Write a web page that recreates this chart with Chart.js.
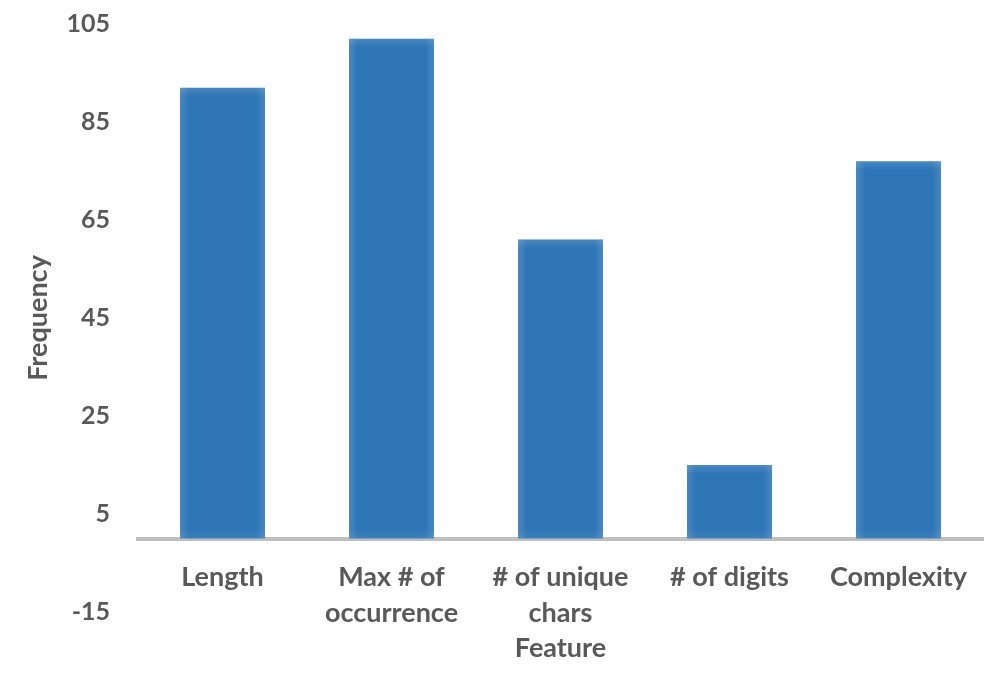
<!DOCTYPE html>
<html>
<head>
<meta charset="utf-8">
<script src="https://cdn.jsdelivr.net/npm/chart.js@4"></script>
<style>
  body { margin: 0; background: #fff; }
  #wrap { width: 999px; height: 674px; }
</style>
</head>
<body>
<div id="wrap"><canvas id="freqChart"></canvas></div>
<script>
var featureLabels = [['Length'], ['Max # of', 'occurrence'], ['# of unique', 'chars'], ['# of digits'], ['Complexity']];
var frequencyValues = [92, 102, 61, 15, 77];
var yTickValues = [-15, 5, 25, 45, 65, 85, 105];

const textColor = '#595959';
const barColor = '#2e75b6';
const fontFamily = 'Lato, "Open Sans", sans-serif';

// lighter rim on every bar, like the soft edge effect of the original
const softEdges = {
  id: 'softEdges',
  afterDatasetsDraw(chart) {
    const ctx = chart.ctx;
    const edge = 9;
    chart.getDatasetMeta(0).data.forEach(function (bar) {
      const left = bar.x - bar.width / 2;
      const right = bar.x + bar.width / 2;
      const top = Math.min(bar.y, bar.base);
      const bottom = Math.max(bar.y, bar.base);
      const h = bottom - top;
      ctx.save();
      let g = ctx.createLinearGradient(left, 0, left + edge, 0);
      g.addColorStop(0, 'rgba(255,255,255,0.13)');
      g.addColorStop(1, 'rgba(255,255,255,0)');
      ctx.fillStyle = g;
      ctx.fillRect(left, top, edge, h);
      g = ctx.createLinearGradient(right, 0, right - edge, 0);
      g.addColorStop(0, 'rgba(255,255,255,0.13)');
      g.addColorStop(1, 'rgba(255,255,255,0)');
      ctx.fillStyle = g;
      ctx.fillRect(right - edge, top, edge, h);
      g = ctx.createLinearGradient(0, top, 0, top + edge);
      g.addColorStop(0, 'rgba(255,255,255,0.13)');
      g.addColorStop(1, 'rgba(255,255,255,0)');
      ctx.fillStyle = g;
      ctx.fillRect(left, top, bar.width, Math.min(edge, h));
      g = ctx.createLinearGradient(0, bottom, 0, bottom - edge);
      g.addColorStop(0, 'rgba(255,255,255,0.08)');
      g.addColorStop(1, 'rgba(255,255,255,0)');
      ctx.fillStyle = g;
      ctx.fillRect(left, bottom - Math.min(edge, h), bar.width, Math.min(edge, h));
      ctx.restore();
    });
  }
};

const labelFont = { family: fontFamily, size: 27, weight: 'bold' };

var ctx = document.getElementById('freqChart').getContext('2d');
var myChart = new Chart(ctx, {
  type: 'bar',
  data: {
    labels: featureLabels,
    datasets: [{
      label: 'Frequency',
      data: frequencyValues,
      backgroundColor: barColor,
      borderWidth: 0,
      categoryPercentage: 1,
      barPercentage: 0.503,
    }]
  },
  options: {
    responsive: true,
    maintainAspectRatio: false,
    animation: false,
    layout: {
      padding: { top: 24, bottom: 62, left: 0, right: 16 }
    },
    plugins: {
      legend: { display: false },
      tooltip: { enabled: false },
    },
    scales: {
      x: {
        position: { y: 0 },
        z: 1,
        grid: { display: false, drawTicks: false },
        border: { display: true, color: '#bfbfbf', width: 4 },
        ticks: {
          color: textColor,
          font: { family: fontFamily, size: 27, weight: 'bold', lineHeight: 1.333 },
          padding: 21,
          maxRotation: 0,
          autoSkip: false,
        },
        title: {
          display: true,
          text: 'Feature',
          color: textColor,
          font: labelFont,
          padding: { top: -20, bottom: 0 },
        }
      },
      y: {
        min: -15,
        max: 105,
        // invisible tick marks give the label gap (ticks.padding would also pad the chart area)
        grid: { display: true, drawOnChartArea: false, drawTicks: true, tickLength: 28, color: 'rgba(0,0,0,0)' },
        border: { display: false },
        afterBuildTicks: function (scale) {
          scale.ticks = yTickValues.map(v => ({ value: v }));
        },
        afterFit: function (scale) {
          scale.width = 138;
        },
        ticks: {
          color: textColor,
          font: { family: fontFamily, size: 25, weight: 'bold' },
          padding: 0,
        },
        title: {
          display: true,
          text: 'Frequency',
          color: textColor,
          font: labelFont,
          padding: { top: 22, bottom: 0 },
        }
      }
    }
  },
  plugins: [softEdges]
});
</script>
</body>
</html>
